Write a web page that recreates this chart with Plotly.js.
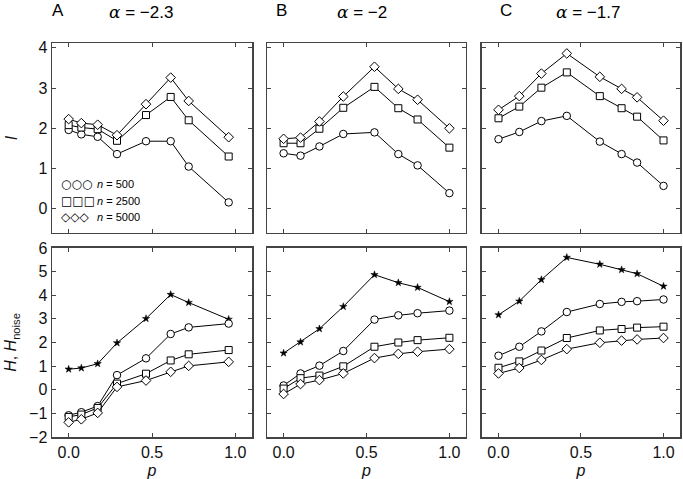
<!DOCTYPE html>
<html>
<head>
<meta charset="utf-8">
<script src="https://cdn.plot.ly/plotly-3.0.1.min.js"></script>
<style>html,body{margin:0;padding:0;background:#fff;} #chart{width:683px;height:479px;}</style>
</head>
<body>
<div id="chart"></div>
<script>
// p values per panel
const pA = [0, 0.076, 0.174, 0.29, 0.464, 0.612, 0.72, 0.96];
const pB = [0, 0.102, 0.216, 0.36, 0.548, 0.692, 0.808, 1.0];
const pC = [0, 0.126, 0.26, 0.414, 0.614, 0.746, 0.84, 1.0];

// Mutual information I (top row)
const I_A_500  = [1.96, 1.85, 1.79, 1.36, 1.68, 1.68, 1.05, 0.16];
const I_A_2500 = [2.08, 2.02, 1.98, 1.69, 2.33, 2.78, 2.20, 1.30];
const I_A_5000 = [2.23, 2.13, 2.09, 1.83, 2.60, 3.26, 2.68, 1.78];
const I_B_500  = [1.38, 1.32, 1.55, 1.86, 1.90, 1.36, 1.08, 0.39];
const I_B_2500 = [1.63, 1.63, 1.99, 2.51, 3.03, 2.50, 2.22, 1.52];
const I_B_5000 = [1.74, 1.77, 2.17, 2.79, 3.53, 2.98, 2.71, 2.00];
const I_C_500  = [1.73, 1.91, 2.18, 2.31, 1.67, 1.36, 1.15, 0.57];
const I_C_2500 = [2.25, 2.54, 3.01, 3.39, 2.80, 2.50, 2.29, 1.70];
const I_C_5000 = [2.46, 2.80, 3.36, 3.86, 3.28, 2.98, 2.77, 2.19];

// Entropy H and noise entropy (bottom row)
const Hn_A     = [0.87, 0.92, 1.10, 1.98, 3.01, 4.03, 3.69, 2.98];
const H_A_500  = [-1.08, -0.95, -0.69, 0.62, 1.33, 2.36, 2.64, 2.80];
const H_A_2500 = [-1.15, -1.05, -0.77, 0.26, 0.68, 1.24, 1.50, 1.68];
const H_A_5000 = [-1.38, -1.25, -0.98, 0.12, 0.39, 0.76, 1.01, 1.18];
const Hn_B     = [1.55, 2.02, 2.58, 3.52, 4.87, 4.53, 4.33, 3.73];
const H_B_500  = [0.18, 0.69, 1.02, 1.64, 2.97, 3.15, 3.24, 3.35];
const H_B_2500 = [0.05, 0.49, 0.60, 0.99, 1.82, 2.00, 2.10, 2.20];
const H_B_5000 = [-0.18, 0.24, 0.41, 0.69, 1.34, 1.52, 1.61, 1.72];
const Hn_C     = [3.17, 3.75, 4.66, 5.60, 5.31, 5.08, 4.91, 4.38];
const H_C_500  = [1.44, 1.82, 2.47, 3.29, 3.63, 3.72, 3.75, 3.82];
const H_C_2500 = [0.93, 1.20, 1.66, 2.19, 2.51, 2.57, 2.63, 2.67];
const H_C_5000 = [0.69, 0.92, 1.26, 1.72, 1.99, 2.08, 2.13, 2.19];

const panelLetters = ["A", "B", "C"];
const alphaLabels = ["−2.3", "−2", "−1.7"];
const legendLabels = ["500", "2500", "5000"];

const FONT = "Liberation Sans, Arial, sans-serif";
const AX = "#444";

const sym = {"500": "circle", "2500": "square", "5000": "diamond"};
const msize = {"500": 7.5, "2500": 7, "5000": 7.4};

function tr(x, y, n, xa, ya) {
  return {
    x: x, y: y, xaxis: xa, yaxis: ya, type: "scatter", mode: "lines+markers",
    showlegend: false, cliponaxis: false,
    line: {color: "#000", width: 1},
    marker: {symbol: sym[n], size: msize[n], color: "#fff", line: {color: "#000", width: 1}}
  };
}
function star(x, y, xa, ya) {
  return {
    x: x, y: y, xaxis: xa, yaxis: ya, type: "scatter", mode: "lines+markers",
    showlegend: false, cliponaxis: false,
    line: {color: "#000", width: 1},
    marker: {symbol: "star", size: 5.5, color: "#000", line: {color: "#000", width: 0.5}}
  };
}

const ps = [pA, pB, pC];
const tops = [[I_A_500, I_A_2500, I_A_5000], [I_B_500, I_B_2500, I_B_5000], [I_C_500, I_C_2500, I_C_5000]];
const bots = [[H_A_500, H_A_2500, H_A_5000], [H_B_500, H_B_2500, H_B_5000], [H_C_500, H_C_2500, H_C_5000]];
const noise = [Hn_A, Hn_B, Hn_C];

const data = [];
for (let c = 0; c < 3; c++) {
  const xt = "x" + (c + 1), yt = "y" + (c + 1);
  const xb = "x" + (c + 4), yb = "y" + (c + 4);
  for (let k = 0; k < 3; k++) data.push(tr(ps[c], tops[c][k], legendLabels[k], xt, yt));
  data.push(star(ps[c], noise[c], xb, yb));
  for (let k = 0; k < 3; k++) data.push(tr(ps[c], bots[c][k], legendLabels[k], xb, yb));
}

const xdom = [[0, 0.3185], [0.3424, 0.6592], [0.6847, 1.0]];
const ydomTop = [0.5178, 1.0], ydomBot = [0.0, 0.4797];

function xaxis(c, bottom) {
  const a = {
    domain: xdom[c], range: [-0.1, 1.1], tickvals: [0, 0.5, 1.0], tickformat: ".1f",
    ticks: "inside", ticklen: 4, tickcolor: AX, tickwidth: 1,
    showline: true, linecolor: AX, linewidth: 1.5, mirror: "allticks",
    showgrid: false, zeroline: false, showticklabels: bottom,
    tickfont: {family: FONT, size: 16, color: "#111"},
    anchor: "y" + (bottom ? c + 4 : c + 1)
  };
  if (bottom) a.title = {text: "<i>p</i>", font: {family: FONT, size: 16, color: "#111"}, standoff: 6};
  return a;
}
function yaxis(c, bottom) {
  const a = {
    domain: bottom ? ydomBot : ydomTop,
    range: bottom ? [-2, 6] : [-0.6, 4.12], dtick: 1, tick0: 0,
    ticks: "inside", ticklen: 4, tickcolor: AX, tickwidth: 1,
    showline: true, linecolor: AX, linewidth: 1.5, mirror: "allticks",
    showgrid: false, zeroline: false, showticklabels: c === 0,
    tickfont: {family: FONT, size: 16, color: "#111"},
    anchor: "x" + (bottom ? c + 4 : c + 1)
  };
  if (c === 0) a.title = {
    text: bottom ? "<i>H</i>, <i>H</i><sub>noise</sub>" : "<i>I</i>",
    font: {family: FONT, size: 16, color: "#111"},
    standoff: bottom ? 8 : 17
  };
  return a;
}

const layout = {
  width: 683, height: 479,
  margin: {l: 52, r: 3, t: 43, b: 42},
  paper_bgcolor: "#fff", plot_bgcolor: "#fff",
  showlegend: false,
  annotations: []
};
for (let c = 0; c < 3; c++) {
  layout["xaxis" + (c + 1)] = xaxis(c, false);
  layout["yaxis" + (c + 1)] = yaxis(c, false);
  layout["xaxis" + (c + 4)] = xaxis(c, true);
  layout["yaxis" + (c + 4)] = yaxis(c, true);
}

// Panel titles (pixel positions converted to paper coords)
const letterX = [58, 281, 506], alphaX = [141, 362, 588];
function px2paperX(px) { return (px - 52) / 628; }
function px2paperY(py) { return (437 - py) / 394; }
for (let c = 0; c < 3; c++) {
  layout.annotations.push({
    xref: "paper", yref: "paper", x: px2paperX(letterX[c]), y: px2paperY(11),
    text: panelLetters[c], showarrow: false, xanchor: "center", yanchor: "middle",
    font: {family: FONT, size: 17, color: "#000"}
  });
  layout.annotations.push({
    xref: "paper", yref: "paper", x: px2paperX(alphaX[c]), y: px2paperY(12),
    text: "<span style=\"font-family:DejaVu Serif\"><i>α</i></span> = " + alphaLabels[c],
    showarrow: false, xanchor: "center", yanchor: "middle",
    font: {family: FONT, size: 17, color: "#000"}
  });
}

// Legend (inside panel A, top row)
const legSym = ["○○○", "□□□", "◇◇◇"];
const legY = [184, 201, 217];
for (let k = 0; k < 3; k++) {
  layout.annotations.push({
    xref: "paper", yref: "paper", x: px2paperX(59), y: px2paperY(legY[k]),
    text: legSym[k], showarrow: false, xanchor: "left", yanchor: "middle",
    font: {family: "DejaVu Sans", size: 12, color: "#000"}
  });
  layout.annotations.push({
    xref: "paper", yref: "paper", x: px2paperX(95), y: px2paperY(legY[k]),
    text: "<i>n</i> = " + legendLabels[k], showarrow: false, xanchor: "left", yanchor: "middle",
    font: {family: FONT, size: 11, color: "#000"}
  });
}

Plotly.newPlot("chart", data, layout, {staticPlot: true, displayModeBar: false});
</script>
</body>
</html>
